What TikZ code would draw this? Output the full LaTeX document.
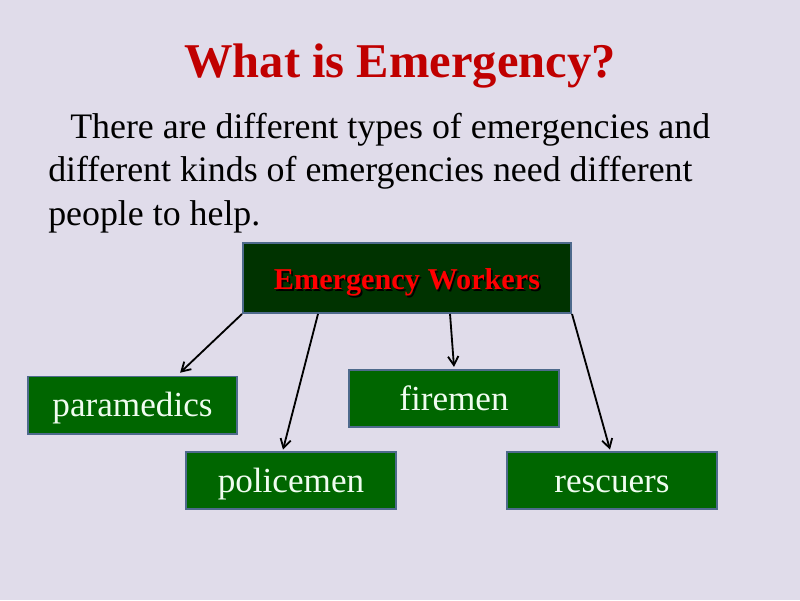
\documentclass[tikz,border=0pt]{standalone}
\usepackage{fontspec}
\setmainfont{Liberation Serif}
\usetikzlibrary{arrows.meta, positioning}

\definecolor{slidebg}{RGB}{224,220,234}
\definecolor{titlered}{RGB}{192,0,0}
\definecolor{boxgreen}{RGB}{0,102,0}
\definecolor{topgreen}{RGB}{0,51,0}
\definecolor{boxedge}{RGB}{78,106,140}
\definecolor{boxtext}{RGB}{240,252,240}

\newcommand{\shadowed}[1]{{\color{black}\rlap{\kern1.2pt\raisebox{-1.2pt}{#1}}}{\color{red}#1}}

\begin{document}
\begin{tikzpicture}[
  x=0.025cm, y=-0.025cm,
  worker/.style={rectangle, draw=boxedge, line width=1.4pt, fill=boxgreen, minimum width=5.225cm, minimum height=1.425cm, align=center, text=boxtext, text height=20pt, text depth=3pt, font=\fontsize{25}{30}\selectfont},
  arr/.style={-{Straight Barb[length=2.2mm, width=2.6mm]}, line width=1.3pt, black},
  title/.style={font=\fontsize{34.5}{40}\selectfont\bfseries, text=titlered}
]

  \fill[slidebg] (0,0) rectangle (800,600);
  \useasboundingbox (0,0) rectangle (800,600);

  \node[title] (title) at (400,66) {What is Emergency?};

  \node[anchor=north west, align=left, inner sep=0pt, font=\fontsize{25.5}{30.8}\selectfont] (intro) at (48,113)
    {\hspace{0.55cm}There are different types of emergencies and\\different kinds of emergencies need different\\people to help.};

  \node[rectangle, draw=boxedge, line width=1.4pt, fill=topgreen, minimum width=8.2cm, minimum height=1.75cm, text height=20pt, text depth=3pt, font=\fontsize{21.5}{26}\selectfont\bfseries] (top) at (407,278) {\shadowed{Emergency Workers}};

  \node[worker] (para) at (132.5,405) {paramedics};
  \node[worker] (fire) at (454,398.5) {firemen};
  \node[worker] (police) at (291,480.5) {policemen};
  \node[worker] (rescue) at (612,480.5) {rescuers};

  \draw[arr] (top.south west) -- ([xshift=1.19cm, yshift=2pt]para.north);
  \draw[arr] ([xshift=1.9cm]top.south west) -- ([xshift=-0.2cm, yshift=1pt]police.north);
  \draw[arr] ([xshift=5.2cm]top.south west) -- ([yshift=1.5pt]fire.north);
  \draw[arr] (top.south east) -- ([xshift=-0.05cm, yshift=1pt]rescue.north);

\end{tikzpicture}
\end{document}
